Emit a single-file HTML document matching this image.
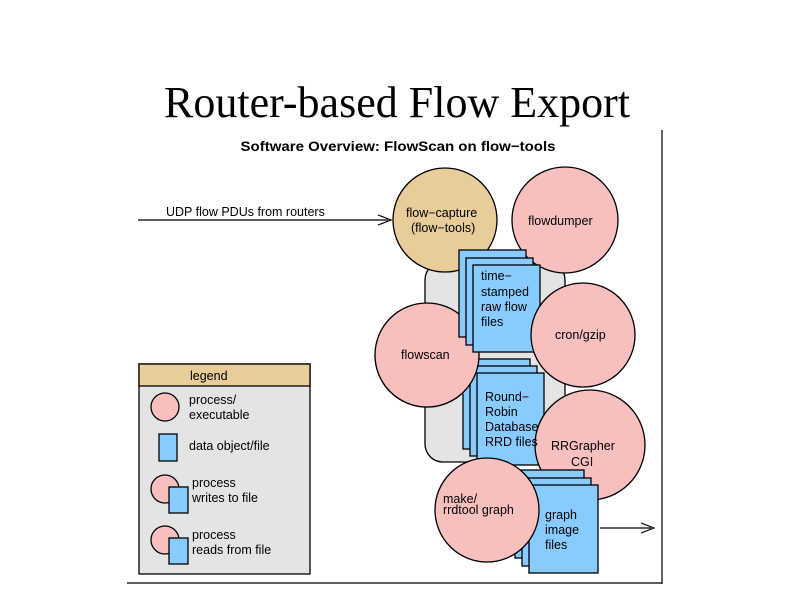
<!DOCTYPE html>
<html><head><meta charset="utf-8"><style>
html,body{margin:0;padding:0;background:#fff;}
svg{display:block;}
.s{font-family:"Liberation Sans",sans-serif;font-size:12.5px;fill:#000;}
</style></head><body>
<svg width="794" height="595" viewBox="0 0 794 595" xmlns="http://www.w3.org/2000/svg">
<defs><clipPath id="c"><rect x="350" y="354" width="200" height="60"/></clipPath></defs>
<text x="397" y="117" text-anchor="middle" font-family="Liberation Serif,serif" font-size="44" textLength="466" lengthAdjust="spacingAndGlyphs">Router-based Flow Export</text>
<line x1="662" y1="130" x2="662" y2="584" stroke="#000" stroke-width="1.2"/>
<line x1="127" y1="583" x2="662" y2="583" stroke="#000" stroke-width="1.2"/>
<text x="398" y="151" text-anchor="middle" font-family="Liberation Sans,sans-serif" font-size="14" font-weight="bold" textLength="315" lengthAdjust="spacingAndGlyphs">Software Overview: FlowScan on flow−tools</text>
<g stroke="#000" stroke-width="1.3">
<rect x="425" y="262" width="140" height="200" rx="18" fill="#e4e4e4"/>
<circle cx="445" cy="220" r="52" fill="#e8cc9a"/>
<circle cx="565" cy="220" r="53" fill="#f8bfbf"/>
<circle cx="427" cy="355" r="52" fill="#f8bfbf"/>
<rect x="459" y="250" width="67" height="87" fill="#88ccff"/>
<rect x="466" y="258" width="67" height="87" fill="#88ccff"/>
<rect x="473" y="265" width="67" height="87" fill="#88ccff"/>
<circle cx="583" cy="335" r="52" fill="#f8bfbf"/>
<rect x="463" y="359" width="67" height="90" fill="#88ccff"/>
<rect x="470" y="366" width="67" height="90" fill="#88ccff"/>
<circle cx="427" cy="355" r="52" fill="#f8bfbf" clip-path="url(#c)"/>
<rect x="477" y="373" width="67" height="92" fill="#88ccff"/>
<circle cx="590" cy="445" r="55" fill="#f8bfbf"/>
<rect x="515" y="470" width="69" height="88" fill="#88ccff"/>
<rect x="522" y="478" width="69" height="88" fill="#88ccff"/>
<rect x="529" y="485" width="69" height="88" fill="#88ccff"/>
<circle cx="487" cy="510" r="52" fill="#f8bfbf"/>
</g>
<text class="s" x="406" y="217">flow−capture</text>
<text class="s" x="411" y="232">(flow−tools)</text>
<text class="s" x="528" y="225">flowdumper</text>
<text class="s" x="481" y="280">time−</text>
<text class="s" x="481" y="296">stamped</text>
<text class="s" x="481" y="311">raw flow</text>
<text class="s" x="481" y="326">files</text>
<text class="s" x="555" y="339">cron/gzip</text>
<text class="s" x="401" y="359">flowscan</text>
<text class="s" x="485" y="401">Round−</text>
<text class="s" x="485" y="416">Robin</text>
<text class="s" x="485" y="431">Database</text>
<text class="s" x="485" y="446">RRD files</text>
<text class="s" x="551" y="450">RRGrapher</text>
<text class="s" x="571" y="466">CGI</text>
<text class="s" x="443" y="503">make/</text>
<text class="s" x="443" y="514">rrdtool graph</text>
<text class="s" x="545" y="519">graph</text>
<text class="s" x="545" y="534">image</text>
<text class="s" x="545" y="549">files</text>
<line x1="138" y1="220" x2="388" y2="220" stroke="#000" stroke-width="1.2"/>
<path d="M378,215 L391,220 L378,225" fill="none" stroke="#000" stroke-width="1.2"/>
<text class="s" x="166" y="216">UDP flow PDUs from routers</text>
<line x1="600" y1="528" x2="651" y2="528" stroke="#000" stroke-width="1.2"/>
<path d="M641,523 L654,528 L641,533" fill="none" stroke="#000" stroke-width="1.2"/>
<rect x="139" y="364" width="171" height="210" fill="#e4e4e4" stroke="#000" stroke-width="1.3"/>
<rect x="139" y="364" width="171" height="22" fill="#e8cc9a" stroke="#000" stroke-width="1.3"/>
<text class="s" x="190" y="380">legend</text>
<g stroke="#000" stroke-width="1.3">
<circle cx="165" cy="407" r="14" fill="#f8bfbf"/>
<rect x="159" y="434" width="18" height="27" fill="#88ccff"/>
<circle cx="165" cy="489" r="14" fill="#f8bfbf"/>
<rect x="169" y="487" width="19" height="26" fill="#88ccff"/>
<circle cx="165" cy="540" r="14" fill="#f8bfbf"/>
<rect x="169" y="538" width="19" height="26" fill="#88ccff"/>
</g>
<text class="s" x="189" y="404">process/</text>
<text class="s" x="189" y="419">executable</text>
<text class="s" x="189" y="450">data object/file</text>
<text class="s" x="192" y="487">process</text>
<text class="s" x="192" y="502">writes to file</text>
<text class="s" x="192" y="539">process</text>
<text class="s" x="192" y="554">reads from file</text>
</svg>
</body></html>
